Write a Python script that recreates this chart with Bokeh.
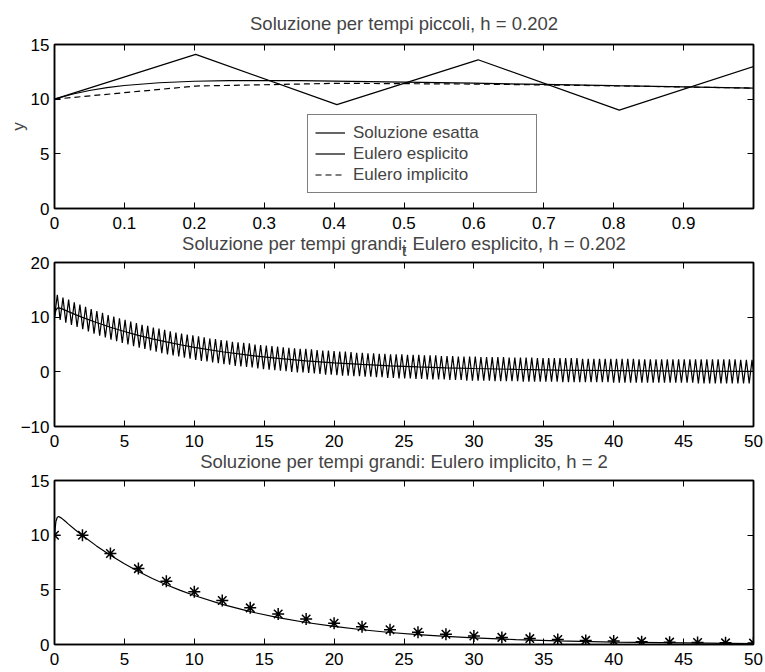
from bokeh.plotting import figure
from bokeh.models import Range1d, LinearAxis, FixedTicker, Legend, LegendItem
from bokeh.layouts import column
from bokeh.embed import file_html
from bokeh.resources import INLINE

FONT = "Liberation Sans"
FS = "17px"
FS_TITLE = "18.5px"

# ---------------- data ----------------
H_EXPL = 0.202   # step of explicit Euler (from the titles)

# top panel: exact solution for small times
t_exact_small = [0, 0.025, 0.05, 0.075, 0.1, 0.15, 0.2, 0.25, 0.3, 0.35, 0.4, 0.5, 0.6, 0.7, 0.8, 0.9, 1.0]
y_exact_small = [10.0, 10.45, 10.79, 11.05, 11.25, 11.50, 11.64, 11.69, 11.70, 11.69, 11.65, 11.56, 11.46, 11.35, 11.23, 11.12, 11.01]

# top panel: Euler steps (h = 0.202)
t_steps_small = [0, 0.202, 0.404, 0.606, 0.808, 1.010]
y_expl_small = [10.0, 14.1, 9.5, 13.6, 9.0, 13.2]
y_impl_small = [10.0, 11.2, 11.45, 11.38, 11.21, 11.0]

# exact solution on long times
t_exact_long = [0, 0.1, 0.2, 0.3, 0.5, 0.75, 1, 1.5, 2, 3, 4, 5, 6, 7, 8, 9, 10, 12, 14, 16, 18,
                20, 22, 24, 26, 28, 30, 33, 36, 40, 45, 50]
y_exact_long = [10.0, 11.25, 11.64, 11.70, 11.56, 11.29, 11.01, 10.47, 9.96, 9.02, 8.16, 7.38, 6.68,
                6.04, 5.47, 4.95, 4.48, 3.67, 3.00, 2.46, 2.01, 1.65, 1.35, 1.10, 0.90, 0.74, 0.61,
                0.45, 0.33, 0.22, 0.14, 0.08]

# middle panel: explicit Euler values, h = 0.202
y_expl_long = [
    10.0, 14.1, 9.5, 13.6, 9.0, 13.2, 8.6, 12.7, 8.2, 12.3,
    7.8, 11.9, 7.4, 11.5, 7.0, 11.1, 6.6, 10.8, 6.3, 10.4,
    5.9, 10.1, 5.6, 9.8, 5.3, 9.5, 5.0, 9.2, 4.7, 8.9,
    4.4, 8.6, 4.2, 8.4, 3.9, 8.1, 3.7, 7.9, 3.4, 7.7,
    3.2, 7.4, 3.0, 7.2, 2.8, 7.0, 2.6, 6.8, 2.4, 6.7,
    2.2, 6.5, 2.0, 6.3, 1.9, 6.1, 1.7, 6.0, 1.6, 5.8,
    1.4, 5.7, 1.3, 5.5, 1.1, 5.4, 1.0, 5.3, 0.9, 5.2,
    0.8, 5.0, 0.6, 4.9, 0.5, 4.8, 0.4, 4.7, 0.3, 4.6,
    0.2, 4.5, 0.1, 4.4, 0.0, 4.3, -0.1, 4.2, -0.1, 4.2,
    -0.2, 4.1, -0.3, 4.0, -0.4, 3.9, -0.5, 3.9, -0.5, 3.8,
    -0.6, 3.7, -0.7, 3.7, -0.7, 3.6, -0.8, 3.5, -0.8, 3.5,
    -0.9, 3.4, -0.9, 3.4, -1.0, 3.3, -1.0, 3.3, -1.1, 3.2,
    -1.1, 3.2, -1.2, 3.2, -1.2, 3.1, -1.2, 3.1, -1.3, 3.1,
    -1.3, 3.0, -1.4, 3.0, -1.4, 3.0, -1.4, 2.9, -1.4, 2.9,
    -1.5, 2.9, -1.5, 2.8, -1.5, 2.8, -1.6, 2.8, -1.6, 2.8,
    -1.6, 2.7, -1.6, 2.7, -1.6, 2.7, -1.7, 2.7, -1.7, 2.7,
    -1.7, 2.6, -1.7, 2.6, -1.7, 2.6, -1.8, 2.6, -1.8, 2.6,
    -1.8, 2.5, -1.8, 2.5, -1.8, 2.5, -1.8, 2.5, -1.8, 2.5,
    -1.9, 2.5, -1.9, 2.5, -1.9, 2.5, -1.9, 2.4, -1.9, 2.4,
    -1.9, 2.4, -1.9, 2.4, -1.9, 2.4, -1.9, 2.4, -2.0, 2.4,
    -2.0, 2.4, -2.0, 2.4, -2.0, 2.4, -2.0, 2.3, -2.0, 2.3,
    -2.0, 2.3, -2.0, 2.3, -2.0, 2.3, -2.0, 2.3, -2.0, 2.3,
    -2.0, 2.3, -2.0, 2.3, -2.0, 2.3, -2.0, 2.3, -2.1, 2.3,
    -2.1, 2.3, -2.1, 2.3, -2.1, 2.3, -2.1, 2.3, -2.1, 2.3,
    -2.1, 2.3, -2.1, 2.2, -2.1, 2.2, -2.1, 2.2, -2.1,
]
t_expl_long = [round(i * H_EXPL, 3) for i in range(len(y_expl_long))]

# bottom panel: implicit Euler values, h = 2
t_impl_long = [0, 2, 4, 6, 8, 10, 12, 14, 16, 18, 20, 22, 24, 26, 28, 30, 32, 34, 36, 38, 40, 42, 44, 46, 48, 50]
y_impl_long = [10.0, 10.0, 8.33, 6.94, 5.79, 4.82, 4.02, 3.35, 2.79, 2.33, 1.94, 1.62, 1.35, 1.12,
               0.93, 0.78, 0.65, 0.54, 0.45, 0.376, 0.313, 0.261, 0.217, 0.181, 0.151, 0.126]

titles = ["Soluzione per tempi piccoli, h = 0.202",
          "Soluzione per tempi grandi; Eulero esplicito, h = 0.202",
          "Soluzione per tempi grandi: Eulero implicito, h = 2"]
legend_labels = ["Soluzione esatta", "Eulero esplicito", "Eulero implicito"]
xticks_small = [0, 0.1, 0.2, 0.3, 0.4, 0.5, 0.6, 0.7, 0.8, 0.9]
xticks_long = [0, 5, 10, 15, 20, 25, 30, 35, 40, 45, 50]
yticks_top = [0, 5, 10, 15]
yticks_mid = [-10, 0, 10, 20]
yticks_bot = [0, 5, 10, 15]

W, H = 765, 672
LEFT, RIGHT = 54, 12
FRAME_H = 164
LW = 1.2
SHIFT = 12   # first canvas starts this far above the page top (room for its title)


def make_fig(height, top, xr, yr, xticks, yticks, title, title_standoff, opaque):
    p = figure(width=W, height=height, x_range=Range1d(*xr), y_range=Range1d(*yr),
               output_backend="svg", toolbar_location=None,
               min_border_left=LEFT, min_border_right=RIGHT,
               min_border_top=top, min_border_bottom=height - top - FRAME_H)
    p.title.text = title
    p.title.align = "center"
    p.title.text_font = FONT
    p.title.text_font_size = FS_TITLE
    p.title.text_font_style = "normal"
    p.title.standoff = title_standoff
    p.xgrid.visible = False
    p.ygrid.visible = False
    p.outline_line_color = "black"
    p.outline_line_width = 1.5
    if opaque:
        p.background_fill_color = "white"
        p.border_fill_color = "white"
    else:
        p.background_fill_alpha = 0
        p.border_fill_alpha = 0
    xax, yax = p.below[0], p.left[0]
    for ax, tk in ((xax, xticks), (yax, yticks)):
        ax.ticker = FixedTicker(ticks=tk)
        ax.major_tick_in = 6
        ax.major_tick_out = 0
        ax.minor_tick_line_color = None
        ax.axis_line_color = "black"
        ax.axis_line_width = 1.5
        ax.major_tick_line_color = "black"
        ax.major_label_text_font = FONT
        ax.major_label_text_font_size = FS
        ax.major_label_text_color = "black"
        ax.axis_label_text_font = FONT
        ax.axis_label_text_font_size = FS
        ax.axis_label_text_font_style = "normal"
    xax.major_label_standoff = 8
    yax.major_label_standoff = 5
    # mirrored ticks on top and right (no labels)
    for loc, tk in (("above", xticks), ("right", yticks)):
        a = LinearAxis(ticker=FixedTicker(ticks=tk), major_tick_in=6, major_tick_out=0,
                       minor_tick_line_color=None, major_label_text_color=None,
                       major_label_standoff=0, axis_line_color="black", axis_line_width=1.5)
        p.add_layout(a, loc)
    return p, xax, yax


# ---------- panel 1: small times ----------
p1, x1, y1 = make_fig(H + SHIFT, 44 + SHIFT, (0, 1.0), (0, 15), xticks_small, yticks_top,
                      titles[0], 21, True)
y1.axis_label = "y"
y1.axis_label_standoff = 0
x1.axis_label = "t"
x1.axis_label_standoff = 9
r_ex = p1.line(t_exact_small, y_exact_small, line_color="black", line_width=LW)
r_ee = p1.line(t_steps_small, y_expl_small, line_color="black", line_width=LW)
r_ei = p1.line(t_steps_small, y_impl_small, line_color="black", line_width=LW, line_dash="6 4")
legend = Legend(items=[LegendItem(label=legend_labels[0], renderers=[r_ex]),
                       LegendItem(label=legend_labels[1], renderers=[r_ee]),
                       LegendItem(label=legend_labels[2], renderers=[r_ei])],
                location=(253, 15), border_line_color="black", border_line_width=1,
                label_text_font=FONT, label_text_font_size="17px",
                glyph_width=30, glyph_height=21, label_height=21, label_width=176, spacing=0,
                padding=7, margin=0, label_standoff=8, background_fill_alpha=1)
p1.add_layout(legend)

# ---------- panel 2: explicit Euler, long times ----------
p2, x2, y2 = make_fig(H, 262, (0, 50), (-10, 20), xticks_long, yticks_mid, titles[1], 17, False)
y2.major_label_overrides = {-10: "\u221210"}
p2.line(t_expl_long, y_expl_long, line_color="black", line_width=LW)
p2.line(t_exact_long, y_exact_long, line_color="black", line_width=LW)

# ---------- panel 3: implicit Euler, long times ----------
p3, x3, y3 = make_fig(H, 480, (0, 50), (0, 15), xticks_long, yticks_bot, titles[2], 17, False)
p3.line(t_exact_long, y_exact_long, line_color="black", line_width=LW)
p3.scatter(t_impl_long, y_impl_long, marker="asterisk", size=12, line_color="black", line_width=1.5)

# the three canvases are stacked on top of each other (transparent overlays)
p1.margin = (-SHIFT, 0, 0, 0)
p2.margin = (-H, 0, 0, 0)
p3.margin = (-H, 0, 0, 0)
layout = column(p1, p2, p3, spacing=0)
open("out.html", "w").write(file_html(layout, INLINE))
